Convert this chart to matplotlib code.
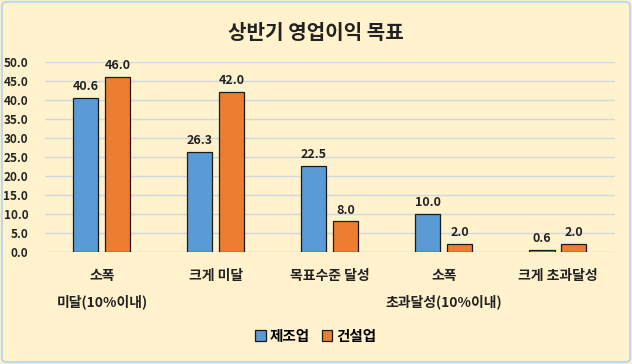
import matplotlib
matplotlib.use("Agg")
import matplotlib.pyplot as plt
import numpy as np
from matplotlib.patches import FancyBboxPatch

plt.rcParams['font.family'] = ['Noto Sans CJK KR', 'DejaVu Sans']

categories = ["소폭\n미달(10%이내)", "크게 미달", "목표수준 달성", "소폭\n초과달성(10%이내)", "크게 초과달성"]
manufacturing = [40.6, 26.3, 22.5, 10.0, 0.6]
construction = [46.0, 42.0, 8.0, 2.0, 2.0]
series_names = ["제조업", "건설업"]
yticks = [0, 5, 10, 15, 20, 25, 30, 35, 40, 45, 50]

bg = "#FFF2CC"
fig = plt.figure(figsize=(6.32, 3.64), dpi=100, facecolor=bg)
border = FancyBboxPatch((0.003, 0.005), 0.994, 0.99, boxstyle="round,pad=0,rounding_size=0.01",
                        transform=fig.transFigure, facecolor="none", edgecolor="#BDD7EE",
                        linewidth=1.5, zorder=5)
fig.patches.append(border)

ax = fig.add_axes([0.071, 0.308, 0.902, 0.522])
ax.set_facecolor(bg)
x = np.arange(len(categories))
w = 0.22
gap = 0.03
b1 = ax.bar(x - w/2 - gap, manufacturing, w, color="#5B9BD5", edgecolor="#1a1a1a", linewidth=0.9, label=series_names[0], zorder=3)
b2 = ax.bar(x + w/2 + gap, construction, w, color="#ED7D31", edgecolor="#1a1a1a", linewidth=0.9, label=series_names[1], zorder=3)
for bars, vals in ((b1, manufacturing), (b2, construction)):
    for r, v in zip(bars, vals):
        ax.text(r.get_x() + r.get_width()/2, v + 1.3, f"{v:.1f}", ha="center", va="bottom",
                fontsize=9, fontweight="bold", color="#222222")

ax.set_ylim(0, 50)
ax.set_xlim(-0.5, 4.5)
ax.set_yticks(yticks)
ax.set_yticklabels([f"{t:.1f}" for t in yticks], fontsize=8.5, fontweight="bold", color="#222222")
ax.yaxis.grid(True, color="#D0D8E4", linewidth=1, zorder=0)
ax.set_axisbelow(True)
ax.tick_params(axis="y", length=0, pad=12)
ax.tick_params(axis="x", length=0, pad=12)
ax.set_xticks(x)
ax.set_xticklabels(categories, fontsize=10, fontweight="bold", color="#222222", linespacing=2.0, va="top")
for s in ax.spines.values():
    s.set_visible(False)

fig.text(0.5, 0.912, "상반기 영업이익 목표", ha="center", va="center", fontsize=14.5, fontweight="bold", color="#222222")

leg = fig.legend(handles=[b1, b2], labels=series_names, loc="center", bbox_to_anchor=(0.5, 0.077),
                 ncol=2, frameon=False, handlelength=0.7, handleheight=0.8,
                 handletextpad=0.3, columnspacing=0.8, prop={'weight': 'bold', 'size': 10.5})
fig.savefig("out.png", dpi=100, facecolor=bg)
